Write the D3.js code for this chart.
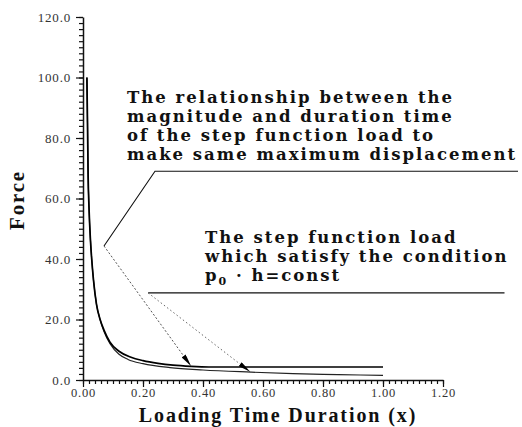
<!DOCTYPE html>
<html>
<head>
<meta charset="utf-8">
<script src="https://cdn.jsdelivr.net/npm/d3@7"></script>
<style>
  body { margin: 0; background: #fff; }
  svg { display: block; }
</style>
</head>
<body>
<div id="chart"></div>
<script>
// magnitude/duration relation giving the same max displacement
const durRelation = [0.013, 0.015, 0.017, 0.02, 0.025, 0.029, 0.035, 0.045, 0.057, 0.07, 0.09, 0.12, 0.16, 0.20, 0.25, 0.30, 0.36, 0.42, 0.50, 0.60, 0.80, 1.00]
const forceRelation = [100, 85, 68, 57, 46, 40, 33, 25, 20, 16.5, 12.5, 9.5, 7.5, 6.4, 5.5, 4.9, 4.5, 4.3, 4.3, 4.3, 4.3, 4.3]

// step load with p0 * h = const
const durConst = [0.013, 0.015, 0.017, 0.02, 0.025, 0.029, 0.035, 0.045, 0.057, 0.07, 0.09, 0.12, 0.15, 0.20, 0.29, 0.40, 0.56, 0.70, 0.85, 1.00]
const forceConst = [100, 85, 68, 57, 46, 40, 33, 25, 20, 16, 12, 8.5, 6.8, 5.4, 4.1, 3.3, 2.6, 2.1, 1.8, 1.5]

const xTickValues = [0, 0.2, 0.4, 0.6, 0.8, 1.0, 1.2]
const yTickValues = [0, 20, 40, 60, 80, 100, 120]

const relationText = [
  'The relationship between the',
  'magnitude and duration time',
  'of the step function load to',
  'make same maximum displacement'
]
const stepText = [
  'The step function load',
  'which satisfy the condition'
]

const width = 522
const height = 427
const margin = { top: 17, right: 79, bottom: 47, left: 83 }

const svg = d3
  .select('#chart')
  .append('svg')
  .attr('width', width)
  .attr('height', height)

svg.append('rect').attr('width', width).attr('height', height).attr('fill', '#fff')

const x = d3.scaleLinear().domain([0, 1.2]).range([margin.left, width - margin.right])
const y = d3.scaleLinear().domain([0, 120]).range([height - margin.bottom, margin.top])

const tickFont = '"Liberation Serif", serif'
const titleFont = '"Liberation Serif", serif'
const noteFont = '"DejaVu Serif", serif'

// minor ticks first, then the labelled ones
svg.append('g')
  .attr('transform', 'translate(0,' + y(0) + ')')
  .call(d3.axisBottom(x).tickValues(d3.range(0, 1.2001, 0.02)).tickSize(4).tickFormat(''))
  .call(g => g.select('.domain').remove())

svg.append('g')
  .attr('transform', 'translate(' + x(0) + ',0)')
  .call(d3.axisLeft(y).tickValues(d3.range(0, 120.01, 2)).tickSize(4).tickFormat(''))
  .call(g => g.select('.domain').remove())

const xAxis = svg.append('g')
  .attr('transform', 'translate(0,' + y(0) + ')')
  .call(d3.axisBottom(x).tickValues(xTickValues).tickSize(7).tickSizeOuter(0).tickPadding(1).tickFormat(d3.format('.2f')))

const yAxis = svg.append('g')
  .attr('transform', 'translate(' + x(0) + ',0)')
  .call(d3.axisLeft(y).tickValues(yTickValues).tickSize(7).tickSizeOuter(0).tickPadding(5).tickFormat(d3.format('.1f')))

svg.selectAll('.tick line').attr('stroke', '#111').attr('stroke-width', 1.2)
svg.selectAll('.domain').attr('stroke', '#111').attr('stroke-width', 1.5)

xAxis.selectAll('text')
  .attr('font-family', tickFont)
  .attr('font-size', 12.5)
  .attr('letter-spacing', 0.8)
  .attr('fill', '#333')

yAxis.selectAll('text')
  .attr('font-family', tickFont)
  .attr('font-size', 13)
  .attr('letter-spacing', 0.8)
  .attr('fill', '#333')

// axis titles
svg.append('text')
  .attr('x', 278)
  .attr('y', 422)
  .attr('text-anchor', 'middle')
  .attr('font-family', titleFont)
  .attr('font-weight', 'bold')
  .attr('font-size', 20)
  .attr('letter-spacing', 1.9)
  .attr('fill', '#111')
  .text('Loading Time Duration (x)')

svg.append('text')
  .attr('transform', 'translate(24,200) rotate(-90)')
  .attr('text-anchor', 'middle')
  .attr('font-family', titleFont)
  .attr('font-weight', 'bold')
  .attr('font-size', 21)
  .attr('letter-spacing', 1.8)
  .attr('fill', '#111')
  .text('Force')

// curves
const line = d3.line().x(d => x(d[0])).y(d => y(d[1])).curve(d3.curveMonotoneX)

svg.append('path')
  .datum(d3.zip(durConst, forceConst))
  .attr('d', line)
  .attr('fill', 'none')
  .attr('stroke', '#222')
  .attr('stroke-width', 1.2)

svg.append('path')
  .datum(d3.zip(durRelation, forceRelation))
  .attr('d', line)
  .attr('fill', 'none')
  .attr('stroke', '#000')
  .attr('stroke-width', 1.7)

// arrowhead
svg.append('defs')
  .append('marker')
  .attr('id', 'head')
  .attr('viewBox', '0 0 10 4')
  .attr('refX', 10)
  .attr('refY', 2)
  .attr('markerUnits', 'userSpaceOnUse')
  .attr('markerWidth', 13)
  .attr('markerHeight', 5)
  .attr('orient', 'auto')
  .append('path')
  .attr('d', 'M0,0L10,2L0,4Z')
  .attr('fill', '#000')

// annotation anchors in data units
const relCorner = [0.24, 69]
const relEnd = [1.45, 69]
const relVertex = [0.07, 44.3]
const relTip = [0.36, 4.6]
const stepStart = [0.217, 28.8]
const stepEnd = [1.405, 28.8]
const stepTip = [0.557, 2.7]

const pt = d => [x(d[0]), y(d[1])]

svg.append('path')
  .attr('d', d3.line()([pt(relEnd), pt(relCorner), pt(relVertex)]))
  .attr('fill', 'none')
  .attr('stroke', '#111')
  .attr('stroke-width', 1.1)

svg.append('path')
  .attr('d', d3.line()([pt(relVertex), pt(relTip)]))
  .attr('fill', 'none')
  .attr('stroke', '#555')
  .attr('stroke-width', 1)
  .attr('stroke-dasharray', '2,2')
  .attr('marker-end', 'url(#head)')

svg.append('path')
  .attr('d', d3.line()([pt(stepEnd), pt(stepStart)]))
  .attr('fill', 'none')
  .attr('stroke', '#111')
  .attr('stroke-width', 1.1)

svg.append('path')
  .attr('d', d3.line()([pt(stepStart), pt(stepTip)]))
  .attr('fill', 'none')
  .attr('stroke', '#666')
  .attr('stroke-width', 1)
  .attr('stroke-dasharray', '1.5,2.5')
  .attr('marker-end', 'url(#head)')

// labels
const noteStyle = sel => sel
  .attr('font-family', noteFont)
  .attr('font-weight', 'bold')
  .attr('font-size', 16.5)
  .attr('letter-spacing', 2)
  .attr('fill', '#111')

svg.append('g')
  .selectAll('text')
  .data(relationText)
  .enter()
  .append('text')
  .attr('x', 127)
  .attr('y', (d, i) => 103 + i * 19)
  .call(noteStyle)
  .text(d => d)

svg.append('g')
  .selectAll('text')
  .data(stepText)
  .enter()
  .append('text')
  .attr('x', 205)
  .attr('y', (d, i) => 243 + i * 19)
  .call(noteStyle)
  .text(d => d)

const cond = svg.append('text')
  .attr('x', 205)
  .attr('y', 281)
  .call(noteStyle)
cond.append('tspan').text('p')
cond.append('tspan').attr('dy', 4).attr('font-size', 11).text('0')
cond.append('tspan').attr('dy', -4).text(' \u00b7 h=const')
</script>
</body>
</html>
